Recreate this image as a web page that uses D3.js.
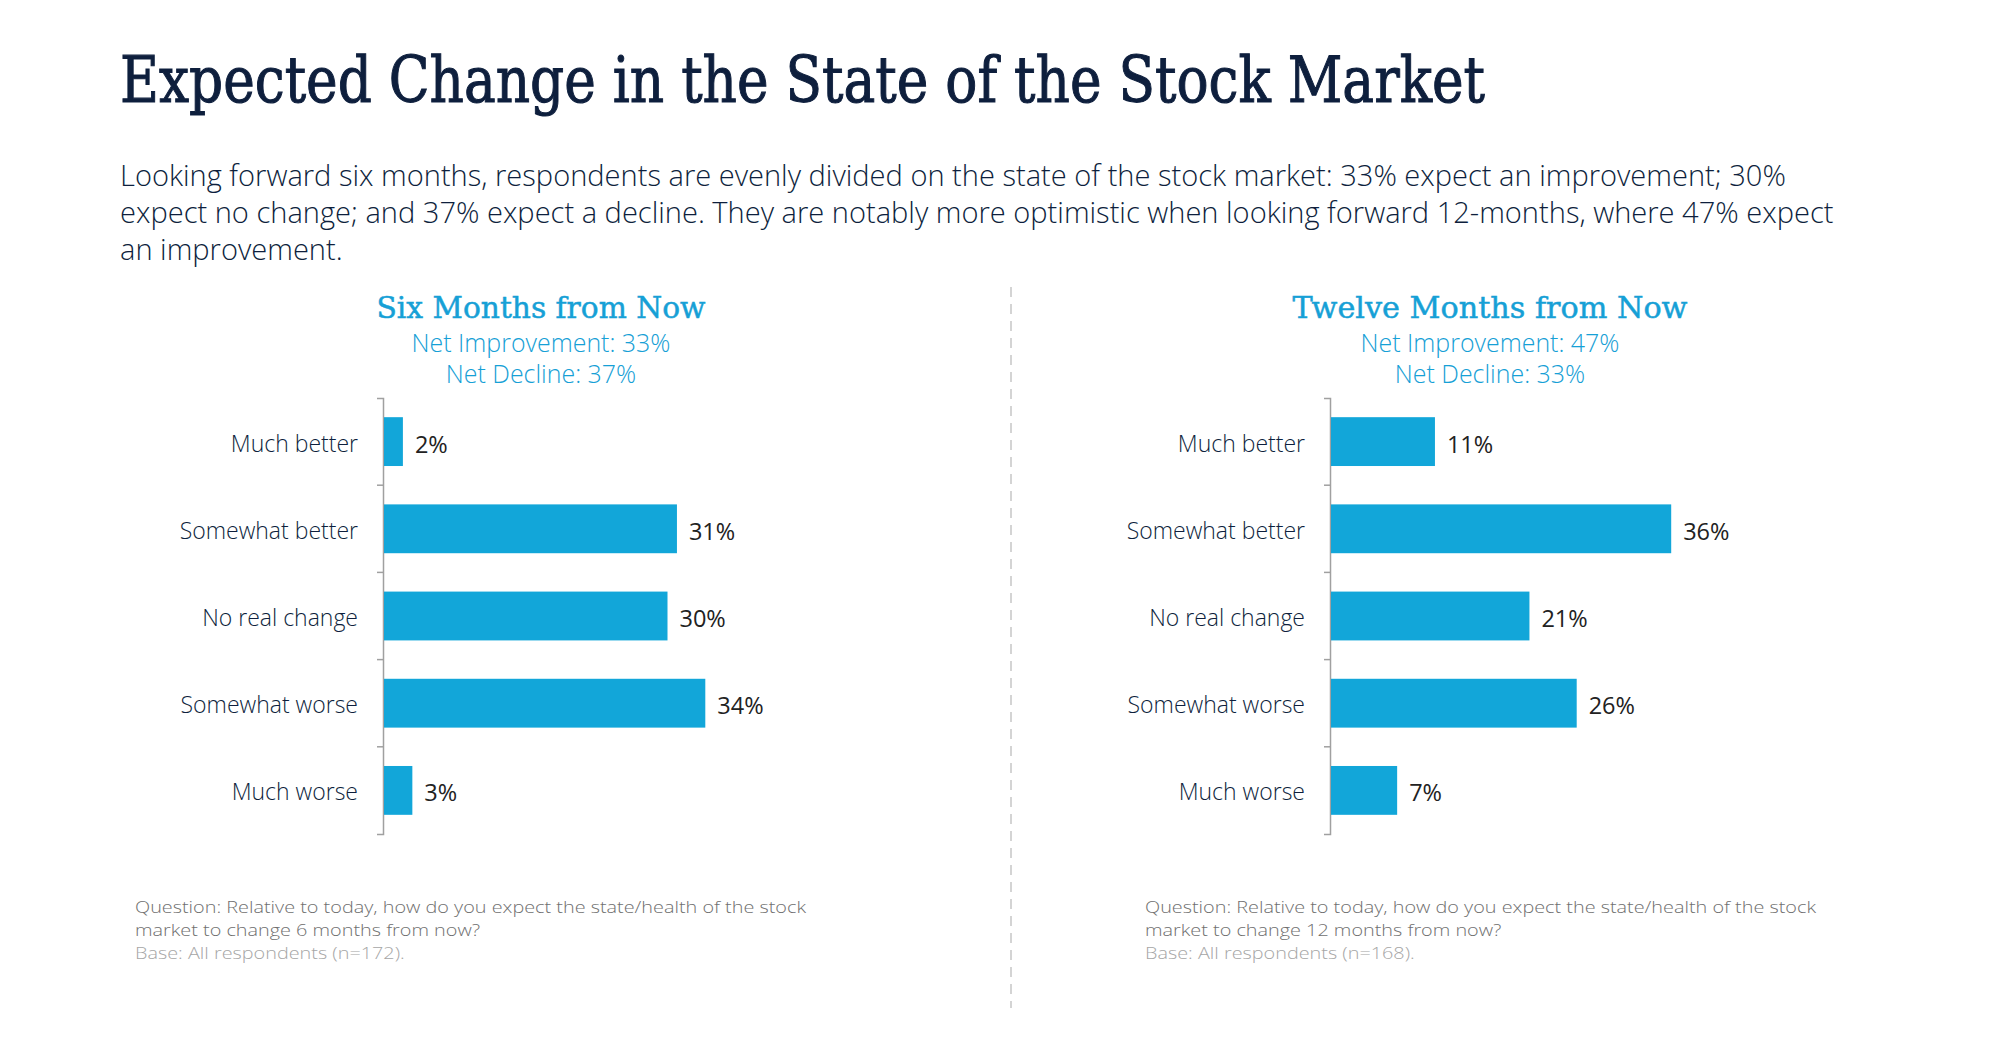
<!DOCTYPE html>
<html><head><meta charset="utf-8">
<script src="https://cdn.jsdelivr.net/npm/d3@7"></script>
<style>
html,body{margin:0;padding:0;background:#fff;}
svg{display:block;}
</style></head>
<body>
<svg id="chart" width="2000" height="1040"></svg>
<script>
// ---- data ----
const categories = ["Much better","Somewhat better","No real change","Somewhat worse","Much worse"];
const sixMonths = [2,31,30,34,3];
const twelveMonths = [11,36,21,26,7];
const valueLabels6 = ["2%","31%","30%","34%","3%"];
const valueLabels12 = ["11%","36%","21%","26%","7%"];
const titleText = "Expected Change in the State of the Stock Market";
const introLines = [
  "Looking forward six months, respondents are evenly divided on the state of the stock market: 33% expect an improvement; 30%",
  "expect no change; and 37% expect a decline. They are notably more optimistic when looking forward 12-months, where 47% expect",
  "an improvement."
];
const panelTitles = ["Six Months from Now","Twelve Months from Now"];
const netImprovement = ["Net Improvement: 33%","Net Improvement: 47%"];
const netDecline = ["Net Decline: 37%","Net Decline: 33%"];
const questions = [
  ["Question: Relative to today, how do you expect the state/health of the stock","market to change 6 months from now?"],
  ["Question: Relative to today, how do you expect the state/health of the stock","market to change 12 months from now?"]
];
const bases = ["Base: All respondents (n=172).","Base: All respondents (n=168)."];

// ---- styles ----
const NAVY = "#0e1f3d";
const BLUE = "#12a6d9";
const TITLEBLUE = "#16a0d6";
const SANS = "'Open Sans', 'Noto Sans', sans-serif";
const SLAB = "'DejaVu Serif', serif";

const svg = d3.select("#chart");

function fitWidth(sel, target){
  const node = sel.node();
  const w = node.getComputedTextLength();
  const fs = parseFloat(sel.attr("font-size"));
  sel.attr("font-size", (fs*target/w).toFixed(2));
}

// Title
svg.append("text").attr("x",120).attr("y",102)
  .attr("font-family",SLAB).attr("font-size",64).attr("fill",NAVY)
  .attr("stroke",NAVY).attr("stroke-width",1.1)
  .attr("textLength",1365).attr("lengthAdjust","spacingAndGlyphs")
  .text(titleText);

// Intro paragraph
const introG = svg.append("g");
let introFs = 27;
introLines.forEach((t,i)=>{
  introG.append("text").attr("x",120).attr("y",186+i*37)
    .attr("font-family",SANS).attr("font-size",introFs).attr("font-weight",300).attr("fill",NAVY)
    .text(t);
});
{
  const t0 = introG.select("text");
  const w = t0.node().getComputedTextLength();
  introFs = introFs*1666/w;
  introG.selectAll("text").attr("font-size",introFs.toFixed(2));
}

// Divider
svg.append("line").attr("x1",1011).attr("x2",1011).attr("y1",287).attr("y2",1008)
  .attr("stroke","#d4d4d4").attr("stroke-width",2).attr("stroke-dasharray","10,7");

// Panels
const panels = [
  {axisX:383, cx:541, values:sixMonths, labels:valueLabels6, noteX:135},
  {axisX:1330, cx:1490, values:twelveMonths, labels:valueLabels12, noteX:1145}
];

const x = d3.scaleLinear().domain([0,40]).range([0,378]);
const y = d3.scaleBand().domain(categories).range([398,834]).paddingInner(0.44).paddingOuter(0.22);

panels.forEach((p,pi)=>{
  const g = svg.append("g");
  // panel titles
  g.append("text").attr("x",p.cx).attr("y",318).attr("text-anchor","middle")
    .attr("font-family",SLAB).attr("font-size",30).attr("fill",TITLEBLUE)
    .attr("stroke",TITLEBLUE).attr("stroke-width",0.5)
    .attr("textLength", pi===0?329:395).attr("lengthAdjust","spacingAndGlyphs")
    .text(panelTitles[pi]);
  const ni = g.append("text").attr("x",p.cx).attr("y",352).attr("text-anchor","middle")
    .attr("font-family",SANS).attr("font-size",24).attr("fill",TITLEBLUE).attr("font-weight",300)
    .text(netImprovement[pi]);
  fitWidth(ni,259);
  g.append("text").attr("x",p.cx).attr("y",383).attr("text-anchor","middle")
    .attr("font-family",SANS).attr("font-size",ni.attr("font-size")).attr("fill",TITLEBLUE).attr("font-weight",300)
    .text(netDecline[pi]);

  // axis
  const axis = d3.axisLeft(y).tickSizeInner(0).tickSizeOuter(6).tickFormat("");
  const ag = g.append("g").attr("transform",`translate(${p.axisX},0)`).call(axis);
  ag.select(".domain").attr("stroke","#a0a0a0").attr("stroke-width",1.5);
  const halfGap = y.step()*y.paddingInner()/2;
  ag.selectAll("line.bound").data(categories.slice(1)).enter().append("line")
    .attr("class","bound")
    .attr("x1",-6).attr("x2",0)
    .attr("y1",d=>y(d)-halfGap).attr("y2",d=>y(d)-halfGap)
    .attr("stroke","#a0a0a0").attr("stroke-width",1.5);

  // category labels
  g.selectAll("text.cat").data(categories).enter().append("text")
    .attr("class","cat")
    .attr("x",p.axisX-25).attr("y",d=>y(d)+y.bandwidth()/2+2)
    .attr("dy","0.35em").attr("text-anchor","end")
    .attr("font-family",SANS).attr("font-size",23).attr("font-weight",300).attr("fill",NAVY)
    .text(d=>d);

  // bars
  g.selectAll("rect.bar").data(categories).enter().append("rect")
    .attr("class","bar")
    .attr("x",p.axisX+1).attr("y",d=>y(d))
    .attr("width",(d,i)=>x(p.values[i]))
    .attr("height",y.bandwidth())
    .attr("fill",BLUE);

  // value labels
  g.selectAll("text.val").data(categories).enter().append("text")
    .attr("class","val")
    .attr("x",(d,i)=>p.axisX+1+x(p.values[i])+12)
    .attr("y",d=>y(d)+y.bandwidth()/2+2)
    .attr("dy","0.38em")
    .attr("font-family",SANS).attr("font-size",23.5).attr("fill","#222")
    .text((d,i)=>p.labels[i]);

  // footnotes
  const q1 = g.append("text").attr("x",p.noteX).attr("y",913)
    .attr("font-family",SANS).attr("font-size",18).attr("font-weight",300).attr("fill","#6f6f6f")
    .text(questions[pi][0]);
  fitWidth(q1,671);
  const fs = Math.min(parseFloat(q1.attr("font-size")),16.8);
  q1.attr("font-size",fs);
  if (q1.node().getComputedTextLength() < 671) {
    // spread slightly to match the reference width
    q1.attr("textLength",671).attr("lengthAdjust","spacingAndGlyphs");
  }
  const q2 = g.append("text").attr("x",p.noteX).attr("y",936)
    .attr("font-family",SANS).attr("font-size",fs).attr("font-weight",300).attr("fill","#6f6f6f")
    .text(questions[pi][1]);
  const b = g.append("text").attr("x",p.noteX).attr("y",959)
    .attr("font-family",SANS).attr("font-size",fs).attr("font-weight",300).attr("fill","#a6a6a6")
    .text(bases[pi]);
  const ratio = 671/ (q1.attr("textLength") ? 671 : q1.node().getComputedTextLength());
  [q2,b].forEach(t=>{
    const w = t.node().getComputedTextLength();
    const sc = q1.attr("textLength") ? 671/(parseFloat(fs)*0+ (function(){const tmp=g.append("text").attr("font-family",SANS).attr("font-size",fs).attr("font-weight",300).text(questions[pi][0]);const ww=tmp.node().getComputedTextLength();tmp.remove();return ww;})()) : 1;
    t.attr("textLength",(w*sc).toFixed(1)).attr("lengthAdjust","spacingAndGlyphs");
  });
});
</script>
</body></html>
